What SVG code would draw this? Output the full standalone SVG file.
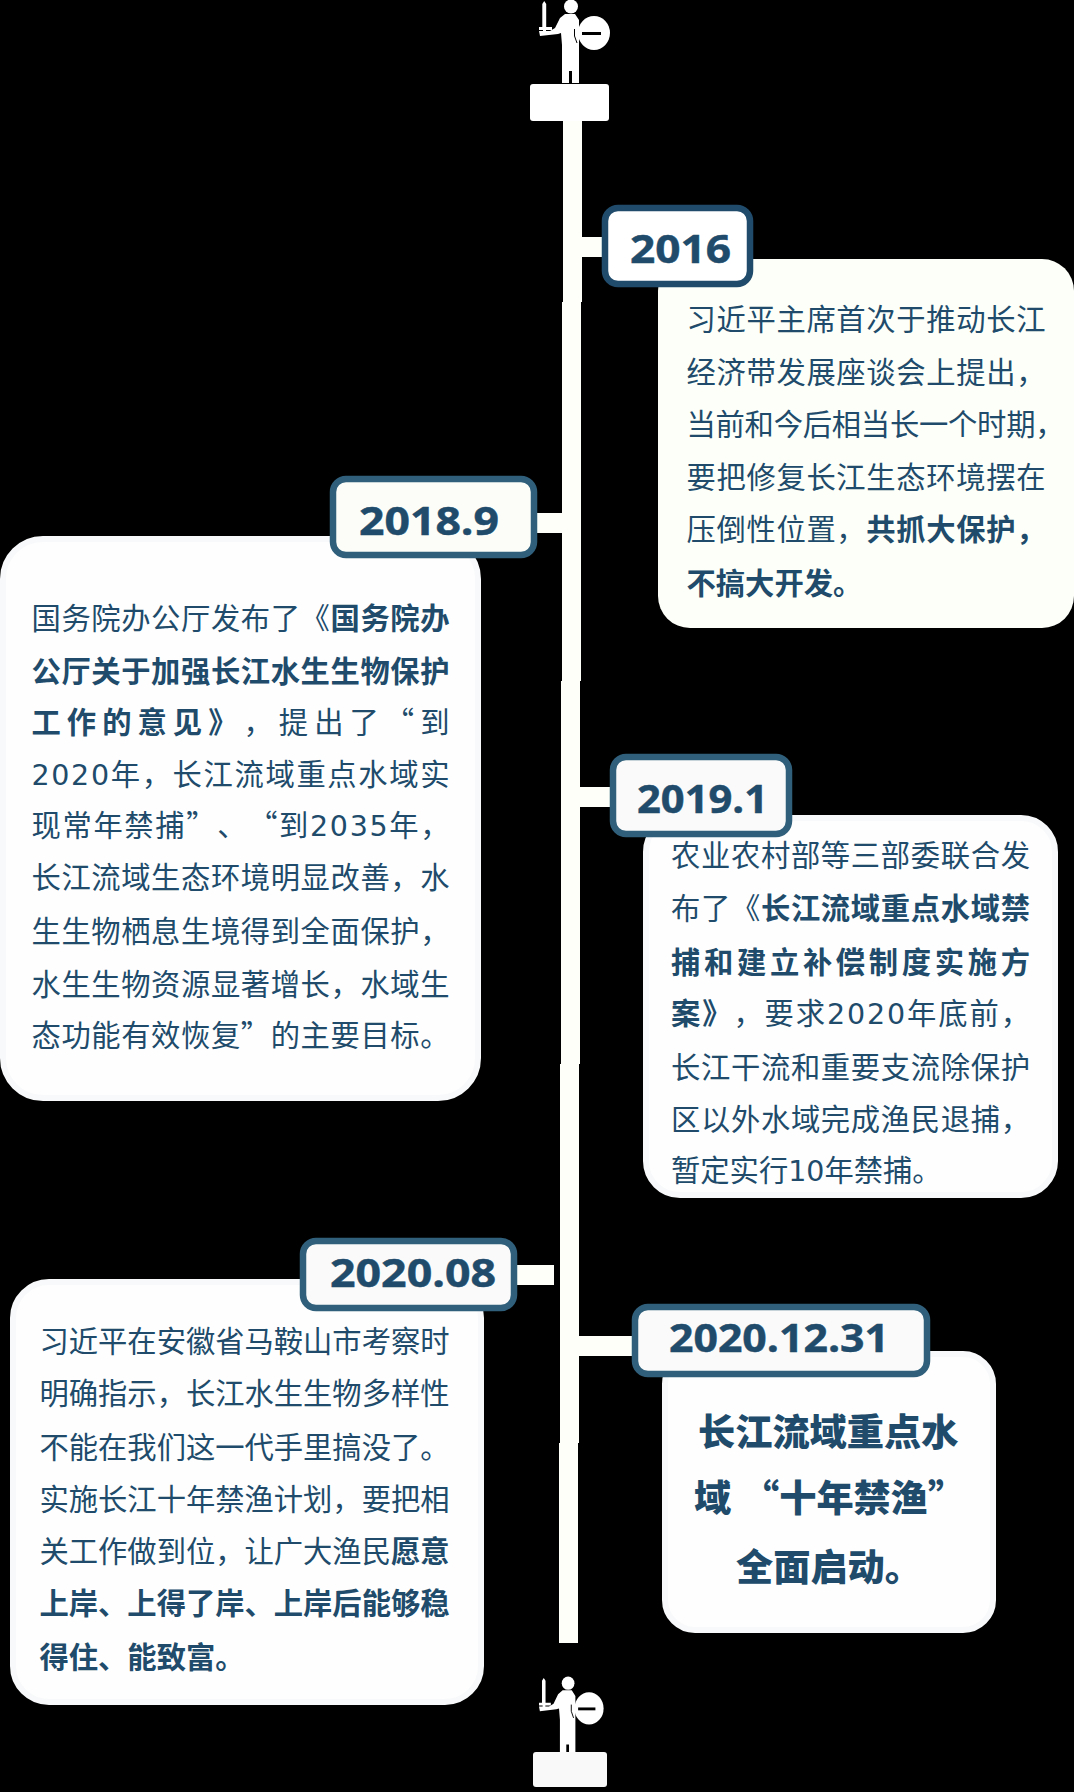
<svg xmlns="http://www.w3.org/2000/svg" width="1074" height="1792" viewBox="0 0 1074 1792">
<style>
text{text-spacing-trim:space-all}
.t{font-family:"Noto Sans CJK SC","Noto Sans",sans-serif;font-size:29.3px;fill:#204b6b}
.b{font-weight:700}
.h{font-family:"Noto Sans CJK SC",sans-serif;font-size:37.200px;font-weight:900;fill:#204b6b}
.n{font-family:"DejaVu Sans",sans-serif;font-size:28.5px}
.y{font-family:"Open Sans","Noto Sans",sans-serif;font-size:40px;font-weight:700;fill:#204b6b;stroke:#204b6b;stroke-width:.5}
.lab{stroke-width:6.5}
.line{fill:#fdfff8;shape-rendering:crispEdges}
.card{fill:#fefefe;stroke:#f8f9fa;stroke-width:6}
</style>
<defs>
<g id="figure">
<ellipse cx="594" cy="33" rx="16" ry="17" fill="#fff"/>
<path fill="#fff" d="M565 14H575L579 20V83H572V71H569V83H562V45L561 33L558 34L540 36L539 31H550L555 28L560 18Z"/>
<circle cx="571" cy="6.500" r="7" fill="#fff"/>
<path fill="#fff" d="M542.300 4L544.200 1L546.200 4V27H552V30H546V32H543V30H539V27H542.300Z"/>
<path d="M574.500 29V36L577 43" fill="none" stroke="#000" stroke-width="1"/>
<rect x="582" y="32" width="19" height="3" fill="#000"/>
</g>
</defs>
<rect width="1074" height="1792" fill="#000"/>
<g id="connectors">
<polygon class="line" points="563,121 582,121 578,1643 559,1643"/>
<rect class="line" x="581" y="237" width="22" height="20"/>
<rect class="line" x="536" y="513" width="26" height="20"/>
<rect class="line" x="580" y="787" width="31" height="20"/>
<rect class="line" x="516" y="1265" width="38" height="20"/>
<rect class="line" x="578" y="1336" width="55" height="20"/>
</g>
<g id="figure-top">
<use href="#figure"/>
<rect x="530" y="84" width="79" height="37" rx="3" fill="#fff"/>
</g>
<g id="figure-bottom">
<use href="#figure" transform="matrix(.91 0 0 .952 48.500 1677)"/>
<rect x="533" y="1752" width="74" height="35" rx="3" fill="#f9f9f9"/>
</g>
<g id="node-2016">
<rect x="658" y="259" width="416" height="369" rx="32" fill="#fdfff9"/>
<rect class="lab" x="605" y="208" width="145" height="76" rx="13" fill="#fff" stroke="#204b6b"/>
<text class="y" x="630" y="263" textLength="101" lengthAdjust="spacingAndGlyphs">2016</text>
<text class="t" x="686.500" y="330" textLength="359">习近平主席首次于推动长江</text>
<text class="t" x="686.500" y="383" textLength="359">经济带发展座谈会上提出，</text>
<text class="t" x="686.500" y="435" textLength="378">当前和今后相当长一个时期，</text>
<text class="t" x="686.500" y="488" textLength="359">要把修复长江生态环境摆在</text>
<text class="t" x="686.500" y="540" textLength="359">压倒性位置，<tspan class="b">共抓大保护，</tspan></text>
<text class="t b" x="686.500" y="594">不搞大开发。</text>
</g>
<g id="node-2018-9">
<rect class="card" x="3" y="539" width="475" height="559" rx="40"/>
<rect class="lab" x="333" y="479" width="201" height="76" rx="13" fill="#fcfdf9" stroke="#2f5f7a"/>
<text class="y" x="359" y="535" textLength="140" lengthAdjust="spacingAndGlyphs">2018.9</text>
<text class="t" x="31.500" y="629" textLength="418">国务院办公厅发布了《<tspan class="b">国务院办</tspan></text>
<text class="t b" x="31.500" y="682" textLength="418">公厅关于加强长江水生生物保护</text>
<text class="t" x="31.500" y="733" textLength="418"><tspan class="b">工作的意见》</tspan>，提出了“到</text>
<text class="t" x="31.500" y="785" textLength="418"><tspan class="n">2020</tspan>年，长江流域重点水域实</text>
<text class="t" x="31.500" y="836" textLength="418">现常年禁捕”、“到<tspan class="n">2035</tspan>年，</text>
<text class="t" x="31.500" y="888" textLength="418">长江流域生态环境明显改善，水</text>
<text class="t" x="31.500" y="942" textLength="418">生生物栖息生境得到全面保护，</text>
<text class="t" x="31.500" y="995" textLength="418">水生生物资源显著增长，水域生</text>
<text class="t" x="31.500" y="1046" textLength="418">态功能有效恢复”的主要目标。</text>
</g>
<g id="node-2019-1">
<rect class="card" x="646" y="818" width="409" height="377" rx="34"/>
<rect class="lab" x="613" y="757" width="176" height="77" rx="13" fill="#fafafa" stroke="#2f5f7a"/>
<text class="y" x="637" y="813" textLength="131" lengthAdjust="spacingAndGlyphs">2019.1</text>
<text class="t" x="671" y="866" textLength="359">农业农村部等三部委联合发</text>
<text class="t" x="671" y="919" textLength="359">布了《<tspan class="b">长江流域重点水域禁</tspan></text>
<text class="t b" x="671" y="973" textLength="359">捕和建立补偿制度实施方</text>
<text class="t" x="671" y="1024" textLength="359"><tspan class="b">案》</tspan>，要求<tspan class="n">2020</tspan>年底前，</text>
<text class="t" x="671" y="1078" textLength="359">长江干流和重要支流除保护</text>
<text class="t" x="671" y="1130" textLength="359">区以外水域完成渔民退捕，</text>
<text class="t" x="671" y="1181">暂定实行<tspan class="n">10</tspan>年禁捕。</text>
</g>
<g id="node-2020-08">
<rect class="card" x="13" y="1282" width="468" height="420" rx="36"/>
<rect class="lab" x="303" y="1241" width="211" height="67" rx="13" fill="#fafafa" stroke="#2f5f7a"/>
<text class="y" x="330" y="1287" textLength="166" lengthAdjust="spacingAndGlyphs">2020.08</text>
<text class="t" x="39.500" y="1352" textLength="410">习近平在安徽省马鞍山市考察时</text>
<text class="t" x="39.500" y="1404" textLength="410">明确指示，长江水生生物多样性</text>
<text class="t" x="39.500" y="1458" textLength="410">不能在我们这一代手里搞没了。</text>
<text class="t" x="39.500" y="1510" textLength="410">实施长江十年禁渔计划，要把相</text>
<text class="t" x="39.500" y="1562" textLength="410">关工作做到位，让广大渔民<tspan class="b">愿意</tspan></text>
<text class="t b" x="39.500" y="1614" textLength="410">上岸、上得了岸、上岸后能够稳</text>
<text class="t b" x="39.500" y="1668" textLength="205">得住、能致富。</text>
</g>
<g id="node-2020-12-31">
<rect class="card" x="665" y="1354" width="328" height="276" rx="30"/>
<rect class="lab" x="635" y="1307" width="292" height="67" rx="13" fill="#fafafa" stroke="#2f5f7a"/>
<text class="y" x="669" y="1352" textLength="220" lengthAdjust="spacingAndGlyphs">2020.12.31</text>
<text class="h" x="698" y="1446">长江流域重点水</text>
<text class="h" x="694" y="1512">域<tspan x="742">“十年禁渔”</tspan></text>
<text class="h" x="736" y="1581">全面启动。</text>
</g>
</svg>
